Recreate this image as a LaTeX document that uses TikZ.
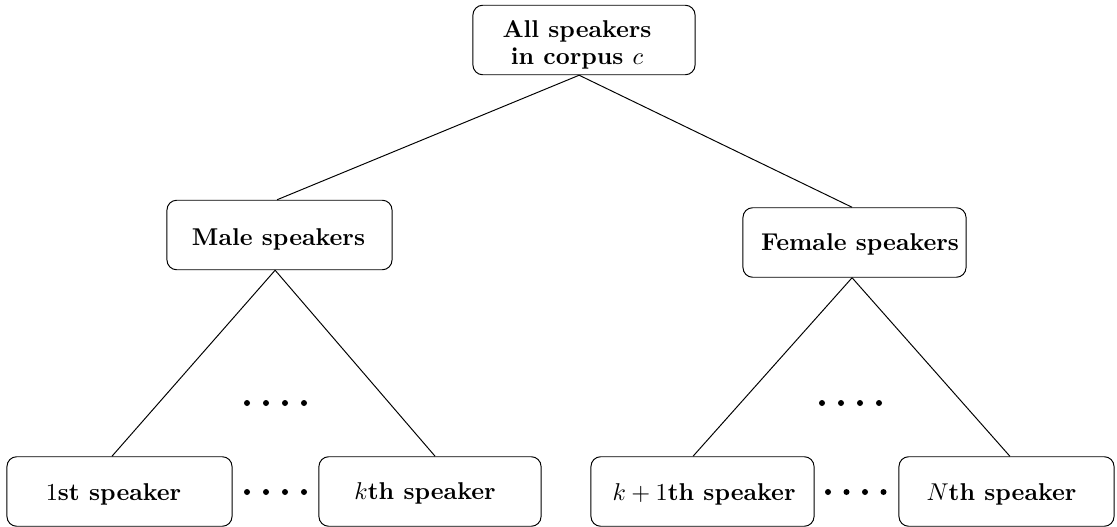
\documentclass[tikz,border=0pt]{standalone}
\usepackage{tikz}
\begin{document}
\begin{tikzpicture}[x=0.4115pt, y=-0.4115pt,
  box/.style={draw, rounded corners=4pt, inner sep=0pt, minimum height=28.6pt, minimum width=#1},
  box/.default=91.6pt,
  lbl/.style={font=\bfseries, inner sep=0pt, anchor=base},
  edge/.style={draw, line width=0.4pt},
  bdot/.style={fill=black}]
\useasboundingbox (0,0) rectangle (1117,527);

% boxes
\node[box=91.4pt] (root)  at (584,40)      {};
\node[box=92.6pt] (male)  at (279.5,235)   {};
\node[box=91.8pt] (fem)   at (854.5,242.5) {};
\node[box=92.6pt] (first) at (119.5,491.5) {};
\node[box=91.4pt] (kth)   at (430,491.5)   {};
\node[box=91.8pt] (kone)  at (702.5,491.5) {};
\node[box=88.5pt] (nth)   at (1006.5,491.5){};

% labels
\node[font=\bfseries, inner sep=0pt, align=center] (rootT) at (577,44.5)
  {All speakers\\[-0.9pt]in corpus $c$};
\node[lbl] (maleT)  at (278.5,245) {Male speakers};
\node[lbl] (femT)   at (860,250)   {Female speakers};
\node[lbl] (firstT) at (113.5,500) {$1$st speaker};
\node[lbl] (kthT)   at (425,499.5) {$k$th speaker};
\node[lbl] (koneT)  at (704,500)   {$k+1$th speaker};
\node[lbl] (nthT)   at (1001.5,500){$N$th speaker};

% connectors
\draw[edge] ([xshift=-2pt]root.south) -- ([xshift=-1pt]male.north);
\draw[edge] ([xshift=-2pt]root.south) -- ([xshift=-1pt]fem.north);
\draw[edge] ([xshift=-1.8pt]male.south) -- ([xshift=-3.1pt]first.north);
\draw[edge] ([xshift=-1.8pt]male.south) -- ([xshift=2.1pt]kth.north);
\draw[edge] ([xshift=-1pt]fem.south) -- ([xshift=-3.9pt]kone.north);
\draw[edge] ([xshift=-1pt]fem.south) -- ([xshift=1.4pt]nth.north);

% ellipsis dots
\foreach \x in {247,266,285,304} {
  \fill[bdot] (\x,403) circle (3);
  \fill[bdot] (\x,492) circle (3);
}
\foreach \x in {822,841,860,879} \fill[bdot] (\x,403) circle (3);
\foreach \x in {828,846.5,865,883.5} \fill[bdot] (\x,492) circle (3);
\end{tikzpicture}
\end{document}
